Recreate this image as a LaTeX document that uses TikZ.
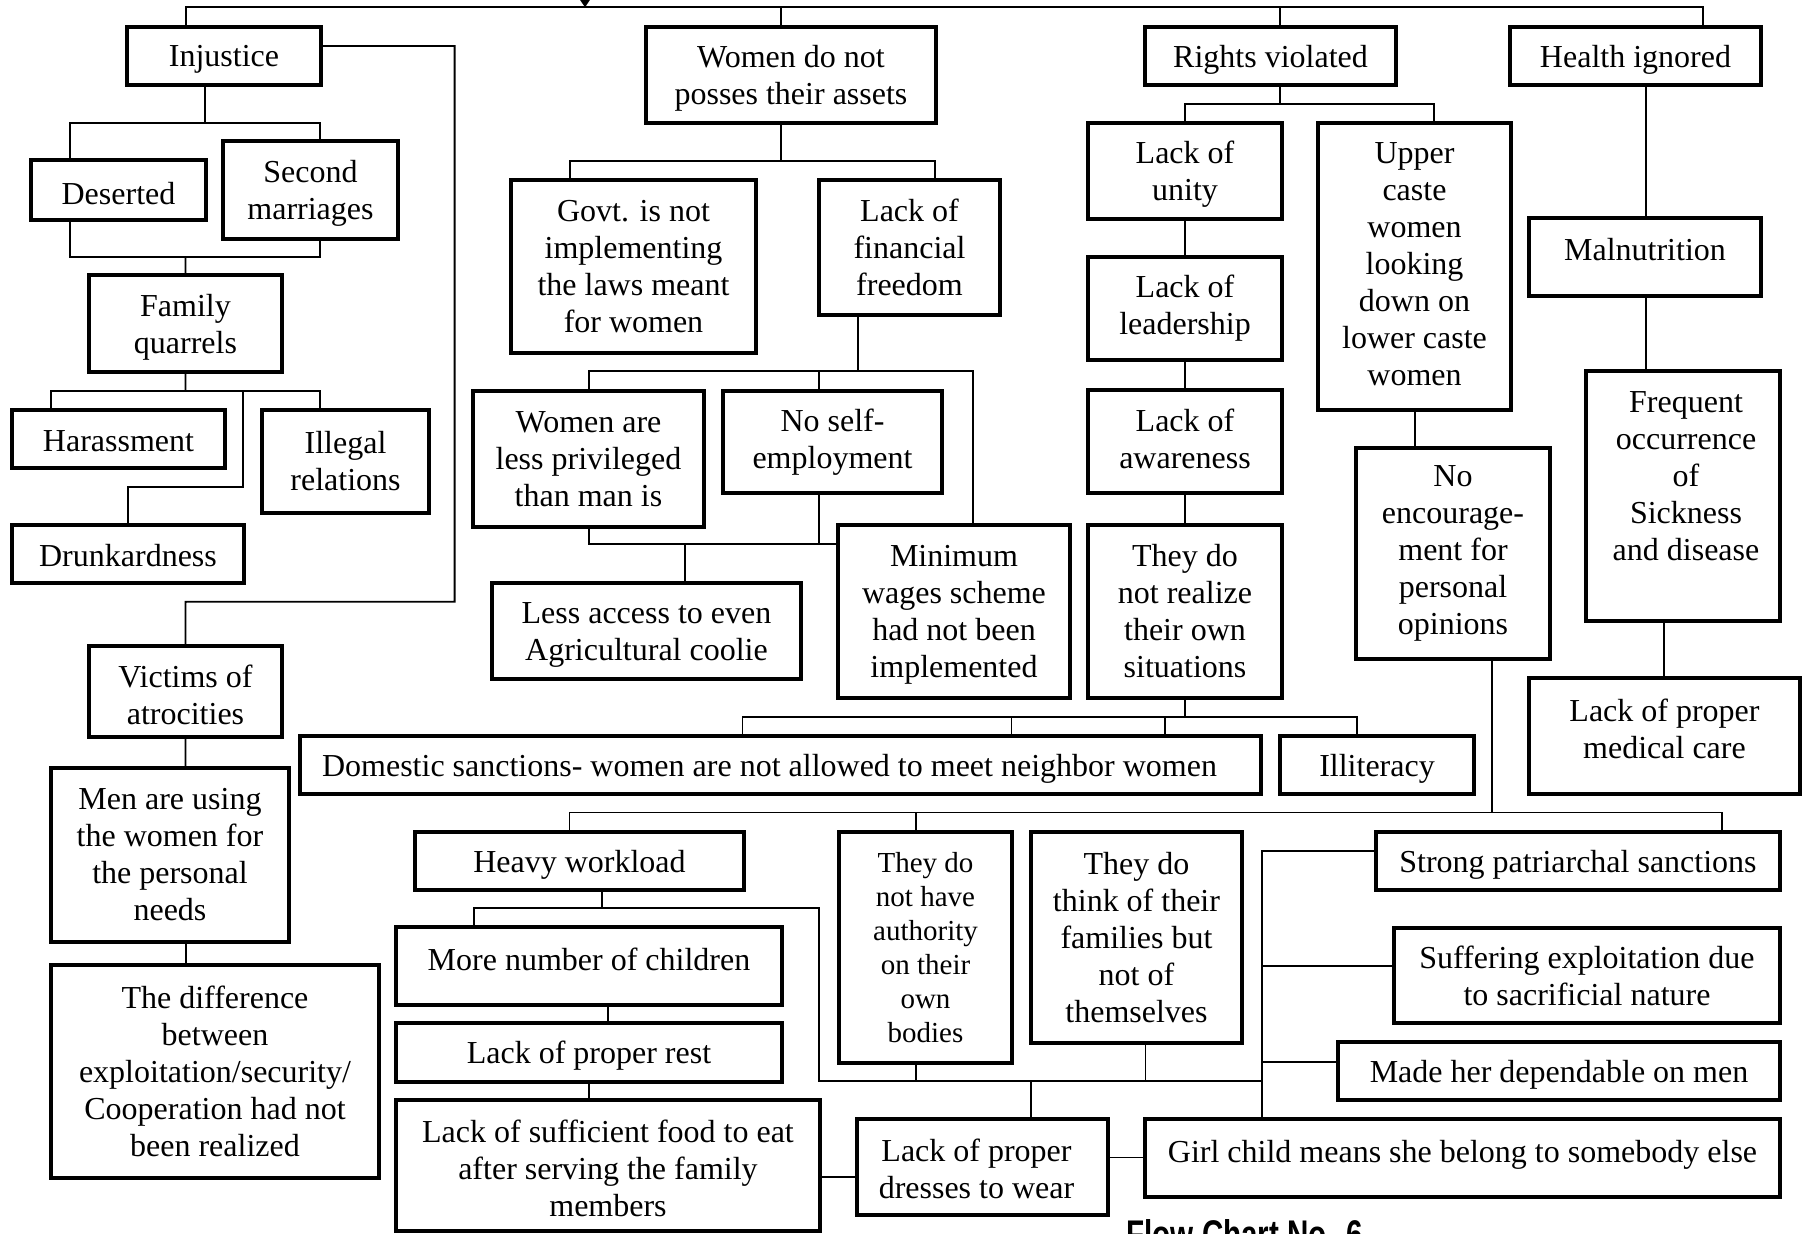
\documentclass[tikz,border=0pt]{standalone}
\usepackage{fontspec}
\usepackage{graphicx}
\setmainfont{Liberation Serif}
\newfontfamily\titlefont{Liberation Sans}
\usetikzlibrary{arrows.meta}
\tikzset{
  boxst/.style={draw, rectangle, line width=1.7pt, inner sep=0pt, outer sep=0pt},
  txt/.style={align=center, inner sep=0pt, font={\fontsize{16pt}{18.5pt}\selectfont}},
  smalltxt/.style={font={\fontsize{14.5pt}{17pt}\selectfont}},
  dn/.style={yshift=-1.75pt},
  conn/.style={line width=0.9pt}
}
% #1 text options, #2 name, #3 x1, #4 y1, #5 x2, #6 y2, #7 text
\newcommand\bx[7][]{%
  \node[boxst, minimum width={(#5-#3)*0.5pt}, minimum height={(#6-#4)*0.5pt}] (#2) at ({(#3+#5)/2},{(#4+#6)/2}) {};
  \node[txt,#1] (#2t) at (#2.center) {#7};
}
\begin{document}
\begin{tikzpicture}[x=0.5pt,y=-0.5pt]
\useasboundingbox (0,0) rectangle (1804,1233);
\fill[white] (0,0) rectangle (1804,1233);

% ---- boxes ----
\bx[dn]{inj}{127}{27}{321}{85}{Injustice}
\bx[dn]{wom}{646}{27}{936}{123}{Women do not\\posses their assets}
\bx[dn]{rig}{1145}{27}{1396}{85}{Rights violated}
\bx[dn]{hea}{1510}{27}{1761}{85}{Health ignored}
\bx[dn]{des}{31}{160}{206}{220}{Deserted}
\bx[dn]{sec}{223}{141}{398}{239}{Second\\marriages}
\bx[dn]{fam}{89}{275}{282}{372}{Family\\quarrels}
\bx[yshift=-1pt]{har}{12}{410}{225}{468}{Harassment}
\bx{ill}{262}{410}{429}{513}{Illegal\\relations}
\bx[yshift=-1pt]{dru}{12}{525}{244}{583}{Drunkardness}
\bx[dn]{vic}{89}{646}{282}{737}{Victims of\\atrocities}
\bx{men}{51}{768}{289}{942}{Men are using\\the women for\\the personal\\needs}
\bx{dif}{51}{965}{379}{1178}{The difference\\between\\exploitation/security/\\Cooperation had not\\been realized}
\bx{gov}{511}{180}{756}{353}{Govt. is not\\implementing\\the laws meant\\for women}
\bx{fin}{819}{180}{1000}{315}{Lack of\\financial\\freedom}
\bx{les}{473}{391}{704}{527}{Women are\\less privileged\\than man is}
\bx{nos}{723}{391}{942}{493}{No self-\\employment}
\bx[dn]{acc}{492}{583}{801}{679}{Less access to even\\Agricultural coolie}
\bx[yshift=-1.5pt]{min}{838}{525}{1070}{698}{Minimum\\wages scheme\\had not been\\implemented}
\bx[yshift=-1.5pt]{uni}{1088}{123}{1282}{219}{Lack of\\unity}
\bx{lea}{1088}{257}{1282}{360}{Lack of\\leadership}
\bx[yshift=1.1pt]{awa}{1088}{390}{1282}{493}{Lack of\\awareness}
\bx{rea}{1088}{525}{1282}{698}{They do\\not realize\\their own\\situations}
\bx[yshift=1pt]{upp}{1318}{123}{1511}{410}{Upper\\caste\\women\\looking\\down on\\lower caste\\women}
\bx{noe}{1356}{448}{1550}{659}{No\\encourage-\\ment for\\personal\\opinions}
\bx[yshift=3.5pt]{mal}{1529}{218}{1761}{296}{Malnutrition}
\bx[yshift=10pt,xshift=1.5pt]{fre}{1586}{371}{1780}{621}{Frequent\\occurrence\\of\\Sickness\\and disease}
\bx[yshift=3.75pt]{med}{1529}{678}{1800}{794}{Lack of proper\\medical care}
\bx[dn,xshift=-5.5pt]{dom}{300}{736}{1261}{794}{Domestic sanctions- women are not allowed to meet neighbor women}
\bx[dn]{ilt}{1280}{736}{1474}{794}{Illiteracy}
\bx[dn]{hwl}{415}{832}{744}{890}{Heavy workload}
\bx[yshift=3.5pt]{mor}{396}{927}{782}{1005}{More number of children}
\bx[dn]{res}{396}{1023}{782}{1082}{Lack of proper rest}
\bx[yshift=-1.2pt]{suf}{396}{1100}{820}{1231}{Lack of sufficient food to eat\\after serving the family\\members}
\bx[smalltxt]{aut}{839}{832}{1012}{1063}{They do\\not have\\authority\\on their\\own\\bodies}
\bx{thi}{1031}{832}{1242}{1043}{They do\\think of their\\families but\\not of\\themselves}
\bx[yshift=-0.8pt,xshift=-3pt]{dre}{857}{1119}{1108}{1215}{Lack of proper\\dresses to wear}
\bx[yshift=1.75pt]{gir}{1145}{1119}{1780}{1197}{Girl child means she belong to somebody else}
\bx[dn]{str}{1376}{832}{1780}{890}{Strong patriarchal sanctions}
\bx{sfe}{1394}{928}{1780}{1023}{Suffering exploitation due\\to sacrificial nature}
\bx[dn]{mad}{1338}{1042}{1780}{1100}{Made her dependable on men}

% ---- title (cut by the page edge, as in the original) ----
\node[anchor=base west, inner sep=0pt, font={\titlefont\bfseries\fontsize{20pt}{24pt}\selectfont}] (title) at (1126,1248.5) {\scalebox{0.74}[1]{Flow Chart No. 6}};

% ---- top bus and arrow ----
\coordinate (arrs) at (585,-30);
\coordinate (arre) at (585,7.3);
\draw[conn] (inj.north-|185.6,0) -- (185.6,7.3) -- (1702.7,7.3) -- (hea.north-|1702.7,0);
\draw[conn] (wom.north-|781,0) -- (781,7.3);
\draw[conn] (rig.north-|1280,0) -- (1280,7.3);
\draw[conn,-{Triangle[width=4.8pt,length=3.8pt]}] (arrs) -- (arre);

% ---- injustice branch ----
\draw[conn] ([yshift=5pt]inj.east) -- (454.6,46) -- (454.6,601.7) -- (185.6,601.7) -- (vic.north);
\draw[conn] (inj.south-|204.7,0) -- (204.7,122.7);
\draw[conn] (des.north-|70,0) -- (70,122.7) -- (320,122.7) -- (sec.north-|320,0);
\draw[conn] (des.south-|70,0) -- (70,256.7) -- (320,256.7) -- (sec.south-|320,0);
\draw[conn] (185.6,256.7) -- (fam.north);
\draw[conn] (fam.south) -- (185.6,390.7);
\draw[conn] (har.north-|50.9,0) -- (50.9,390.7) -- (320,390.7) -- (ill.north-|320,0);
\draw[conn] (243,390.7) -- (243,487.3) -- (128.2,487.3) -- (dru.north-|128.2,0);
\draw[conn] (vic.south) -- (men.north-|185.6,0);
\draw[conn] (men.south-|185.6,0) -- (dif.north-|185.6,0);

% ---- women branch ----
\draw[conn] (wom.south-|781,0) -- (781,161.3);
\draw[conn] (gov.north-|570,0) -- (570,161.3) -- (934.7,161.3) -- (fin.north-|934.7,0);
\draw[conn] (fin.south-|857.7,0) -- (857.7,371.3);
\draw[conn] (les.north-|589,0) -- (589,371.3) -- (973,371.3) -- (min.north-|973,0);
\draw[conn] (819,371.3) -- (nos.north-|819,0);
\draw[conn] (les.south-|589,0) -- (589,544) -- (min.west|-0,544);
\draw[conn] (nos.south-|819,0) -- (819,544);
\draw[conn] (685,544) -- (acc.north-|685,0);

% ---- rights branch ----
\draw[conn] (rig.south-|1280,0) -- (1280,104);
\draw[conn] (uni.north-|1185,0) -- (1185,104) -- (1434,104) -- (upp.north-|1434,0);
\draw[conn] (uni.south) -- (lea.north);
\draw[conn] (lea.south) -- (awa.north);
\draw[conn] (awa.south) -- (rea.north);
\draw[conn] (upp.south-|1414.6,0) -- (noe.north-|1414.6,0);
\draw[conn] (rea.south) -- (1185,716.7);
\draw[conn] (dom.north-|742.4,0) -- (742.4,716.7) -- (1357.2,716.7) -- (ilt.north-|1357.2,0);
\draw[conn] (1011.4,716.7) -- (dom.north-|1011.4,0);
\draw[conn] (1165.3,716.7) -- (dom.north-|1165.3,0);

% ---- health branch ----
\draw[conn] (hea.south-|1645.7,0) -- (mal.north-|1645.7,0);
\draw[conn] (mal.south-|1645.7,0) -- (fre.north-|1645.7,0);
\draw[conn] (fre.south-|1664.2,0) -- (med.north-|1664.2,0);

% ---- lower part ----
\draw[conn] (noe.south-|1491.6,0) -- (1491.6,812.5);
\draw[conn] (hwl.north-|569.4,0) -- (569.4,812.5) -- (1722,812.5) -- (str.north-|1722,0);
\draw[conn] (915.7,812.5) -- (aut.north-|915.7,0);
\draw[conn] (hwl.south-|602,0) -- (602,907.7);
\draw[conn] (mor.north-|473.8,0) -- (473.8,907.7) -- (818.8,907.7) -- (818.8,1081) -- (1262,1081);
\draw[conn] (mor.south-|607.7,0) -- (res.north-|607.7,0);
\draw[conn] (res.south-|588.6,0) -- (suf.north-|588.6,0);
\draw[conn] (suf.east|-0,1176.7) -- (dre.west|-0,1176.7);
\draw[conn] (dre.east|-0,1157.5) -- (gir.west|-0,1157.5);
\draw[conn] (aut.south-|915.7,0) -- (915.7,1081);
\draw[conn] (thi.south-|1145.4,0) -- (1145.4,1081);
\draw[conn] (1030.6,1081) -- (dre.north-|1030.6,0);
\draw[conn] (str.west|-0,851) -- (1262,851) -- (gir.north-|1262,0);
\draw[conn] (1262,965.7) -- (sfe.west|-0,965.7);
\draw[conn] (1262,1061.7) -- (mad.west|-0,1061.7);
\end{tikzpicture}
\end{document}
